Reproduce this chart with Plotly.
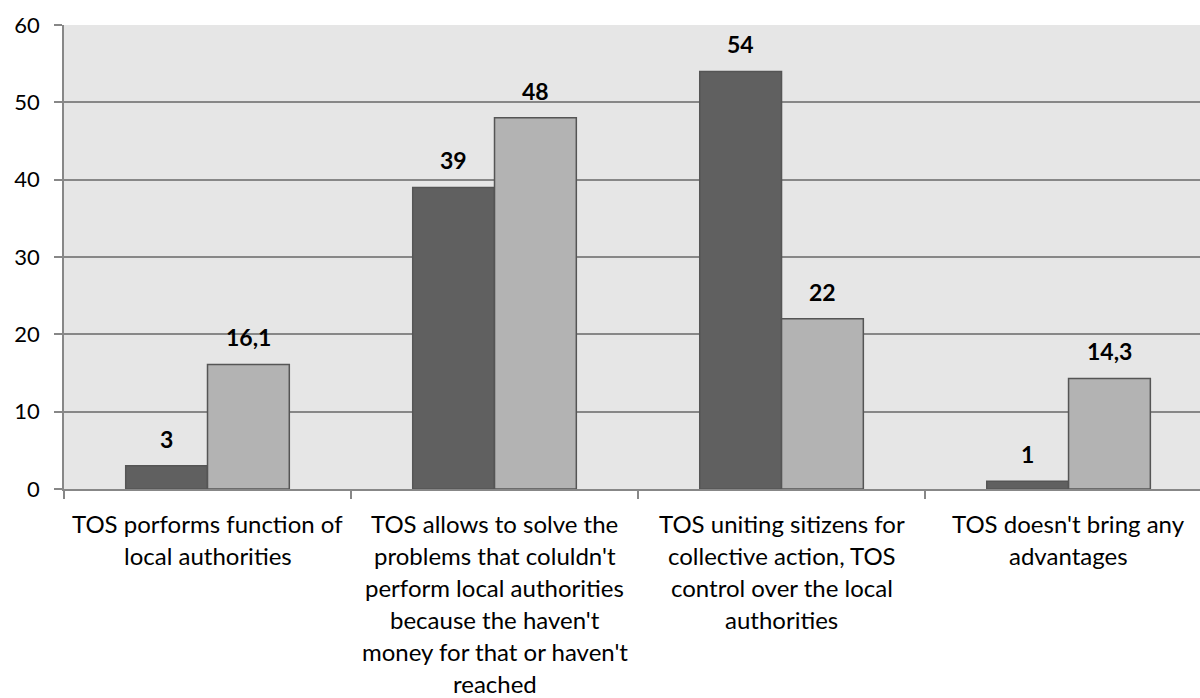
import plotly.graph_objects as go

categories = [
    "TOS porforms function of\nlocal authorities",
    "TOS allows to solve the\nproblems that coluldn't\nperform local authorities\nbecause the haven't\nmoney for that or haven't\nreached",
    "TOS uniting sitizens for\ncollective action, TOS\ncontrol over the local\nauthorities",
    "TOS doesn't bring any\nadvantages",
]
series_a = [3, 39, 54, 1]
series_b = [16.1, 48, 22, 14.3]
labels_a = ["3", "39", "54", "1"]
labels_b = ["16,1", "48", "22", "14,3"]
y_ticks = [0, 10, 20, 30, 40, 50, 60]

FONT = "Lato, 'Open Sans', sans-serif"
idx = list(range(len(categories)))
bargap = 0.43
bw = (1 - bargap) / 2

fig = go.Figure()
fig.add_trace(go.Bar(x=idx, y=series_a, marker=dict(color="#606060", line=dict(color="#555555", width=1.5)),
                     hoverinfo="skip"))
fig.add_trace(go.Bar(x=idx, y=series_b, marker=dict(color="#b3b3b3", line=dict(color="#555555", width=1.5)),
                     hoverinfo="skip"))

ann = []
for i in idx:
    ann.append(dict(x=i - bw / 2, y=series_a[i], xref="x", yref="y", text=f"<b>{labels_a[i]}</b>",
                    showarrow=False, yanchor="middle", yshift=27, font=dict(size=23, color="#000", family=FONT)))
    ann.append(dict(x=i + bw / 2, y=series_b[i], xref="x", yref="y", text=f"<b>{labels_b[i]}</b>",
                    showarrow=False, yanchor="middle", yshift=27, font=dict(size=23, color="#000", family=FONT)))
    for j, line in enumerate(categories[i].split("\n")):
        ann.append(dict(x=i, y=0, xref="x", yref="paper", text=line, showarrow=False,
                        yanchor="middle", yshift=-(34 + 32 * j),
                        font=dict(size=24, color="#000", family=FONT)))

fig.update_layout(
    width=1200, height=698,
    margin=dict(l=64, r=0, t=25, b=209),
    paper_bgcolor="white", plot_bgcolor="#e6e6e6",
    barmode="group", bargap=bargap, bargroupgap=0,
    showlegend=False,
    annotations=ann,
    font=dict(family=FONT, color="#000"),
    xaxis=dict(range=[-0.5, 3.458], tickvals=[-0.5, 0.5, 1.5, 2.5, 3.5], ticktext=[""] * 5,
               ticks="outside", ticklen=8, tickcolor="#878787", tickwidth=1.5, showgrid=False,
               showline=True, linecolor="#878787", linewidth=1.5, zeroline=False, fixedrange=True),
    yaxis=dict(range=[0, 60], tickvals=y_ticks, ticks="outside", ticklen=8, tickcolor="#878787", tickwidth=1.5,
               showgrid=True, gridcolor="#878787", gridwidth=1.5, showline=True, linecolor="#878787",
               linewidth=1.5, zeroline=False, tickfont=dict(size=22, color="#000", family=FONT),
               ticklabelstandoff=10, fixedrange=True),
)

fig.write_html("out.html", config={"displayModeBar": False},
               post_script="document.body.style.margin='0';document.body.style.padding='0';")
